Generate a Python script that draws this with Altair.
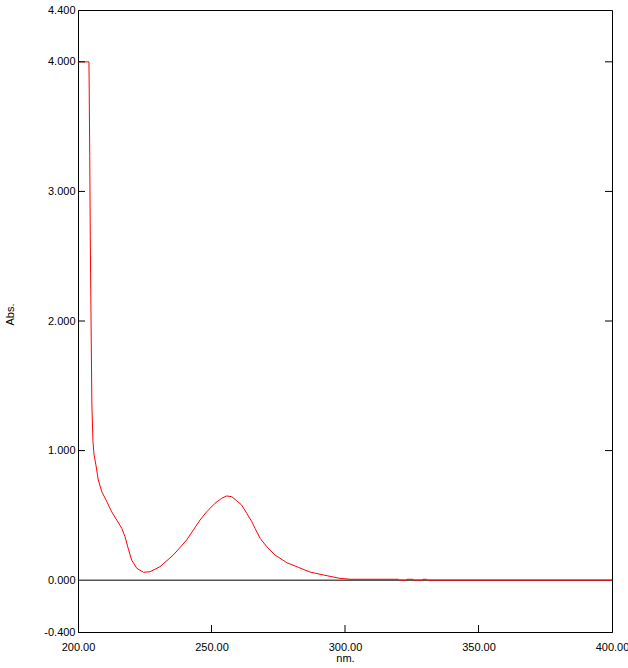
import altair as alt
import pandas as pd

# Spectrum
wavelength = [200.0, 204.1, 204.15, 204.4, 204.6, 204.9, 205.2, 205.6, 206.0, 206.7,
              207.6, 208.9, 210.8, 212.6, 214.5, 216.4, 217.6, 218.8, 220.1, 222.0,
              224.5, 227.0, 230.7, 235.7, 240.7, 245.7, 248.2, 251.3, 253.8, 255.7,
              257.6, 259.4, 261.3, 263.2, 265.1, 266.3, 268.2, 270.7, 273.8, 278.2,
              282.5, 286.9, 291.9, 298.1, 301.9, 320.0, 320.3, 323.0, 323.2, 325.5,
              325.7, 329.0, 329.2, 330.5, 330.7, 400.0]
absorbance = [4.0, 4.0, 3.89, 3.27, 2.65, 1.97, 1.35, 1.07, 0.97, 0.89,
              0.773, 0.683, 0.606, 0.528, 0.464, 0.400, 0.335, 0.246, 0.155, 0.092,
              0.061, 0.065, 0.104, 0.194, 0.310, 0.464, 0.528, 0.593, 0.632, 0.650,
              0.644, 0.613, 0.580, 0.516, 0.451, 0.400, 0.323, 0.258, 0.194, 0.135,
              0.099, 0.063, 0.040, 0.014, 0.007, 0.007, 0.0, 0.0, 0.007, 0.007,
              0.0, 0.0, 0.007, 0.007, 0.0, 0.0]

x_ticks = [200, 250, 300, 350, 400]
y_ticks = [-0.4, 0.0, 1.0, 2.0, 3.0, 4.0, 4.4]
x_inner_ticks = [250, 300, 350]
y_inner_ticks = [1.0, 2.0, 3.0, 4.0]
zero_level = [0.0]

W, H = 534, 622
TICK = 7
FONT = "Liberation Sans"

df = pd.DataFrame({"nm": wavelength, "abs": absorbance, "i": list(range(len(wavelength)))})
xscale = alt.Scale(domain=[200, 400], nice=False, zero=False)
yscale = alt.Scale(domain=[-0.4, 4.4], nice=False, zero=False)

xaxis = alt.Axis(values=x_ticks, format=".2f", title="nm.", ticks=False, grid=False,
                 labelPadding=9, titlePadding=0, labelFlush=False, labelOverlap=False)
yaxis = alt.Axis(values=y_ticks, title="Abs.", ticks=False, grid=False,
                 labelExpr="replace(format(datum.value, '.3f'), '\u2212', '-')",
                 labelPadding=3, labelFlush=False, labelOverlap=False,
                 titleX=-65, titleY=304, titleBaseline="alphabetic", titleAngle=270)

zero = alt.Chart(pd.DataFrame({"abs": zero_level})).mark_rule(color="black", strokeWidth=1).encode(
    y=alt.Y("abs:Q", scale=yscale, axis=yaxis),
)

line = alt.Chart(df).mark_line(color="#ff0000", strokeWidth=1, clip=True).encode(
    x=alt.X("nm:Q", scale=xscale, axis=xaxis),
    y=alt.Y("abs:Q", scale=yscale, axis=yaxis),
    order="i:Q",
)

left_ticks = alt.Chart(pd.DataFrame({"abs": y_inner_ticks})).mark_rule(color="black").encode(
    y=alt.Y("abs:Q", scale=yscale, axis=yaxis), x=alt.value(0), x2=alt.value(TICK)
)
right_ticks = alt.Chart(pd.DataFrame({"abs": y_inner_ticks})).mark_rule(color="black").encode(
    y=alt.Y("abs:Q", scale=yscale, axis=yaxis), x=alt.value(W - TICK), x2=alt.value(W)
)
bottom_ticks = alt.Chart(pd.DataFrame({"nm": x_inner_ticks})).mark_rule(color="black").encode(
    x=alt.X("nm:Q", scale=xscale, axis=xaxis), y=alt.value(H - TICK), y2=alt.value(H)
)

chart = alt.layer(zero, line, left_ticks, right_ticks, bottom_ticks).properties(
    width=W, height=H,
    autosize=alt.AutoSizeParams(type="none"),
    padding={"left": 78, "top": 10, "right": 16, "bottom": 36},
    background="white",
).configure_view(
    stroke="black", strokeWidth=1
).configure_axis(
    labelFont=FONT, labelFontSize=11, labelColor="black",
    titleFont=FONT, titleFontSize=11, titleColor="black", titleFontWeight="normal",
    domainColor="black", domainWidth=1,
)

chart.save("out.html", embed_options={"renderer": "svg", "actions": False})
